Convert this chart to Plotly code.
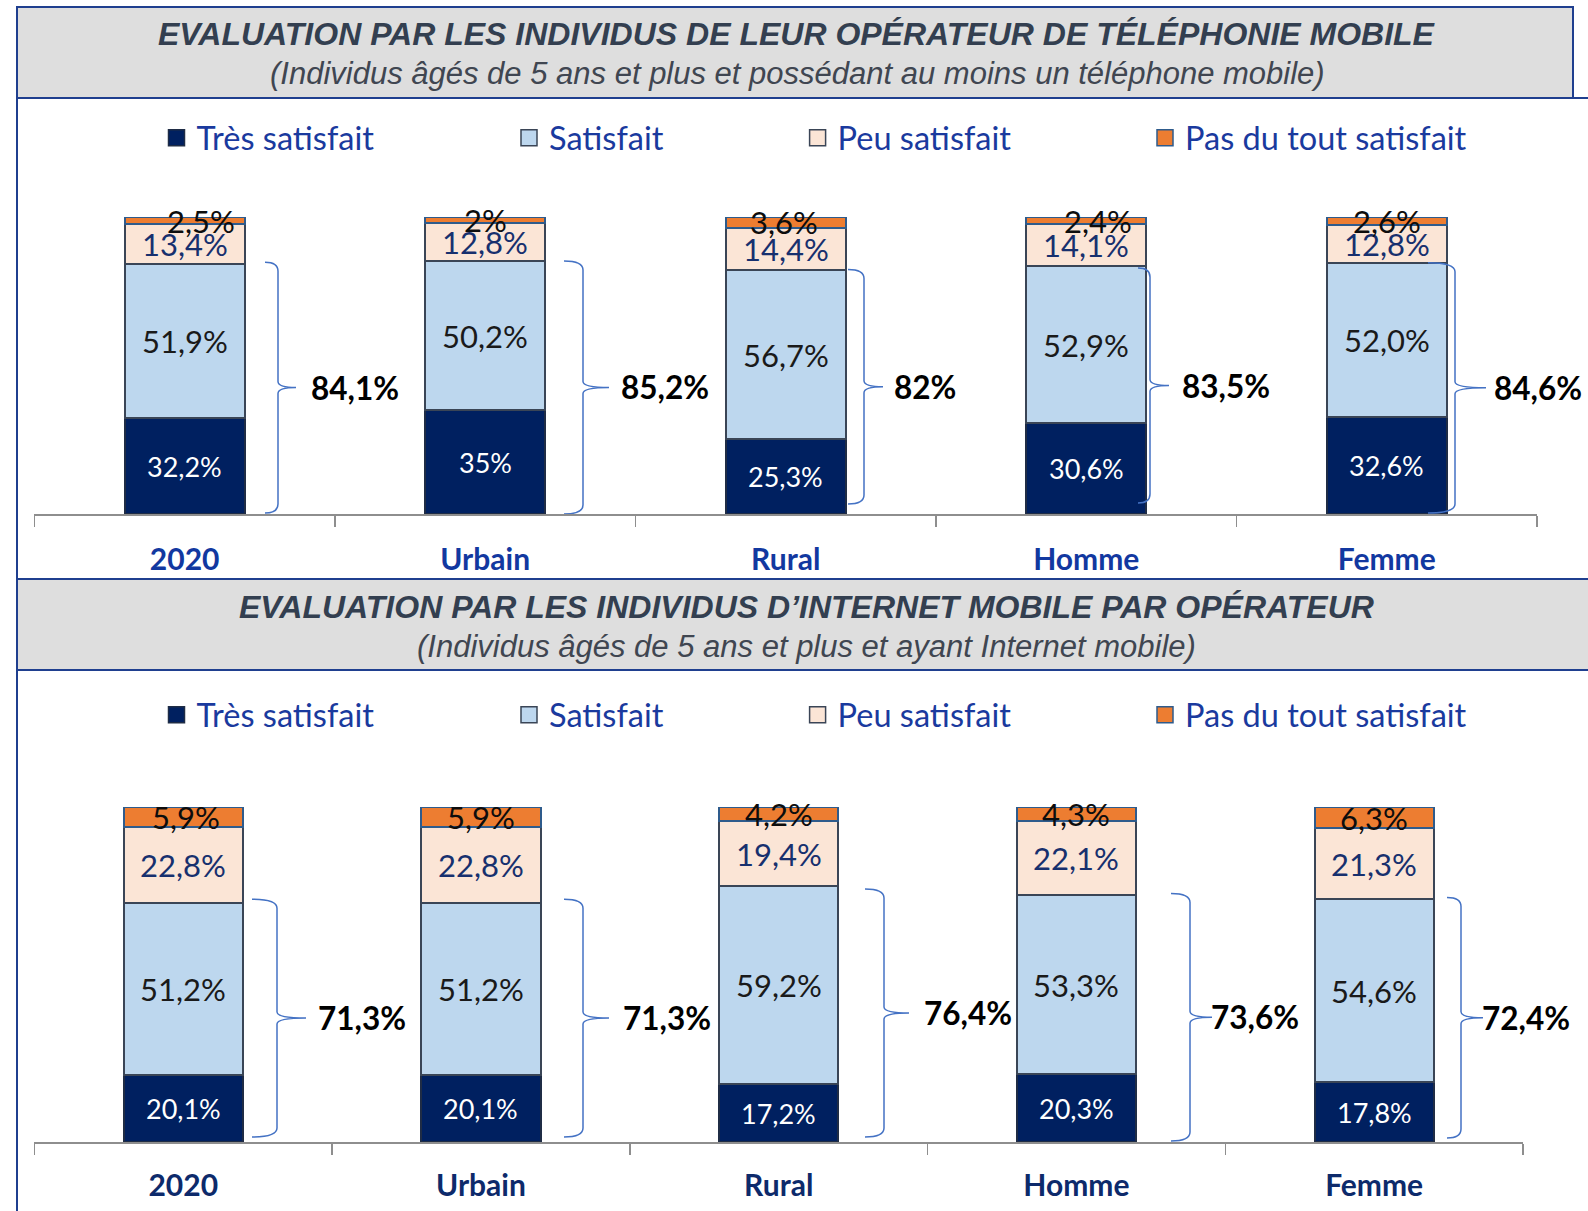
import plotly.graph_objects as go

# ---------------- DATA ----------------
categories = ["2020", "Urbain", "Rural", "Homme", "Femme"]
series_names = ["Très satisfait", "Satisfait", "Peu satisfait", "Pas du tout satisfait"]

# Panel 1 : opérateur de téléphonie mobile
tel_tres = [32.2, 35.0, 25.3, 30.6, 32.6]
tel_sat = [51.9, 50.2, 56.7, 52.9, 52.0]
tel_peu = [13.4, 12.8, 14.4, 14.1, 12.8]
tel_pas = [2.5, 2.0, 3.6, 2.4, 2.6]
tel_tres_lbl = ["32,2%", "35%", "25,3%", "30,6%", "32,6%"]
tel_sat_lbl = ["51,9%", "50,2%", "56,7%", "52,9%", "52,0%"]
tel_peu_lbl = ["13,4%", "12,8%", "14,4%", "14,1%", "12,8%"]
tel_pas_lbl = ["2,5%", "2%", "3,6%", "2,4%", "2,6%"]

# Panel 2 : internet mobile
int_tres = [20.1, 20.1, 17.2, 20.3, 17.8]
int_sat = [51.2, 51.2, 59.2, 53.3, 54.6]
int_peu = [22.8, 22.8, 19.4, 22.1, 21.3]
int_pas = [5.9, 5.9, 4.2, 4.3, 6.3]
int_tres_lbl = ["20,1%", "20,1%", "17,2%", "20,3%", "17,8%"]
int_sat_lbl = ["51,2%", "51,2%", "59,2%", "53,3%", "54,6%"]
int_peu_lbl = ["22,8%", "22,8%", "19,4%", "22,1%", "21,3%"]
int_pas_lbl = ["5,9%", "5,9%", "4,2%", "4,3%", "6,3%"]

title1 = "EVALUATION PAR LES INDIVIDUS DE LEUR OPÉRATEUR DE TÉLÉPHONIE MOBILE"
subtitle1 = "(Individus âgés de 5 ans et plus et possédant au moins un téléphone mobile)"
title2 = "EVALUATION PAR LES INDIVIDUS D’INTERNET MOBILE PAR OPÉRATEUR"
subtitle2 = "(Individus âgés de 5 ans et plus et ayant Internet mobile)"

# ---------------- STYLE / LAYOUT ----------------
W, H = 1588, 1211
FONT = "Lato, 'Noto Sans', sans-serif"
TITLE_FONT = "'Liberation Sans', Arial, sans-serif"
fill_colors = ["#002060", "#bdd7ee", "#fbe5d6", "#ed7d31"]
line_colors = ["#1f2c45", "#3a4556", "#3a4556", "#2e5b8c"]
label_colors = ["#ffffff", "#1a1a1a", "#17306e", "#0d0d0d"]
label_sizes = [27, 31, 31, 31]
BORDER = "#1f3f8f"
BRACE = "#4472c4"


def px(x):
    return x / W


def py(y):
    return 1 - y / H


def fmt_total(v):
    s = f"{v:.1f}"
    if s.endswith(".0"):
        s = s[:-2]
    return s.replace(".", ",") + "%"


panels = [
    dict(vals=[tel_tres, tel_sat, tel_peu, tel_pas],
         lbls=[tel_tres_lbl, tel_sat_lbl, tel_peu_lbl, tel_pas_lbl],
         x0=34.4, x1=1537, ybase=514, ytop=217, cat_color="#1238a0",
         legend_y=138, standoff=18,
         # brace geometry in pixels: hook start, vertical, tip, label centre
         brace=[(265, 278, 296, 355), (564, 583, 609, 665), (848, 864, 883, 925),
                (1138, 1150, 1169, 1226), (1428, 1455, 1486, 1538)],
         brace_top_off=[-2, 0, -1, 2, 0], brace_bot_off=[1, 0, 10, 11, 1],
         pas_dx=[16, 0, -2, 12, 0]),
    dict(vals=[int_tres, int_sat, int_peu, int_pas],
         lbls=[int_tres_lbl, int_sat_lbl, int_peu_lbl, int_pas_lbl],
         x0=34.4, x1=1523, ybase=1142, ytop=807, cat_color="#0d2a6b",
         legend_y=715, standoff=16,
         brace=[(252, 277, 306, 362), (564, 583, 609, 667), (865, 884, 909, 968),
                (1171, 1190, 1212, 1255), (1447, 1461, 1483, 1526)],
         brace_top_off=[-4, -4, 3, -2, -2], brace_bot_off=[5, 5, 5, 1, 4],
         pas_dx=[3, 0, 0, 0, 0]),
]

legend_text_x = [196.5, 549, 837.6, 1185]

fig = go.Figure()
annotations = []
shapes = []
layout_extra = {}
leg_n = 0

for p_i, P in enumerate(panels):
    xa = "x" if p_i == 0 else "x2"
    ya = "y" if p_i == 0 else "y2"
    band = (P["x1"] - P["x0"]) / 5.0
    ppu = (P["ybase"] - P["ytop"]) / 100.0

    def xu(pxv, P=P, band=band):
        return (pxv - P["x0"]) / band - 0.5

    # stacked bars
    for s_i in range(4):
        fig.add_trace(go.Bar(
            x=categories, y=P["vals"][s_i], name=series_names[s_i],
            marker=dict(color=fill_colors[s_i], line=dict(color=line_colors[s_i], width=2)),
            xaxis=xa, yaxis=ya, showlegend=False, hoverinfo="skip"))

    # legend entries (one legend per item, to reproduce the spacing)
    for s_i in range(4):
        leg_n += 1
        lname = "legend" if leg_n == 1 else f"legend{leg_n}"
        fig.add_trace(go.Scatter(
            x=[None], y=[None], mode="markers", name=series_names[s_i],
            marker=dict(symbol="square", size=18, color=fill_colors[s_i],
                        line=dict(color=line_colors[s_i], width=1.5)),
            xaxis=xa, yaxis=ya, legend=lname, showlegend=True, hoverinfo="skip"))
        layout_extra[lname] = dict(
            x=px(legend_text_x[s_i] - 40), xanchor="left",
            y=py(P["legend_y"]), yanchor="middle",
            orientation="h", bgcolor="rgba(0,0,0,0)", borderwidth=0,
            itemwidth=30, itemsizing="trace", itemclick=False, itemdoubleclick=False,
            font=dict(family=FONT, size=32.5, color="#1a3a9e"))

    # segment labels
    for c_i in range(5):
        cum = 0.0
        for s_i in range(4):
            v = P["vals"][s_i][c_i]
            mid = cum + v / 2.0
            cum += v
            annotations.append(dict(
                x=c_i, y=mid, xref=xa, yref=ya, text=P["lbls"][s_i][c_i],
                showarrow=False, xanchor="center", yanchor="middle",
                xshift=P["pas_dx"][c_i] if s_i == 3 else 0,
                font=dict(family=FONT, size=label_sizes[s_i], color=label_colors[s_i])))

    # braces + totals (Très satisfait + Satisfait)
    for c_i in range(5):
        total = P["vals"][0][c_i] + P["vals"][1][c_i]
        hx, vx, tx, lx = P["brace"][c_i]
        yt = total - P["brace_top_off"][c_i] / ppu
        yb = P["brace_bot_off"][c_i] / ppu
        ym = (yt + yb) / 2.0
        r = 9 / ppu
        rt = 6 / ppu
        Hx, Vx, Tx = xu(hx), xu(vx), xu(tx)
        path = (f"M {Hx},{yt} Q {Vx},{yt} {Vx},{yt - r} L {Vx},{ym + rt} "
                f"Q {Vx},{ym} {Tx},{ym} Q {Vx},{ym} {Vx},{ym - rt} "
                f"L {Vx},{yb + r} Q {Vx},{yb} {Hx},{yb}")
        shapes.append(dict(type="path", path=path, xref=xa, yref=ya,
                           line=dict(color=BRACE, width=1.5)))
        annotations.append(dict(
            x=px(lx), y=ym, xref="paper", yref=ya, text=fmt_total(total),
            showarrow=False, xanchor="center", yanchor="middle",
            font=dict(family=FONT, size=31.5, color="#000000", weight="bold")))

    layout_extra["xaxis" if p_i == 0 else "xaxis2"] = dict(
        domain=[px(P["x0"]), px(P["x1"])], anchor=ya, type="category",
        categoryorder="array", categoryarray=categories, range=[-0.5, 4.5],
        showline=True, linecolor="#8e8e8e", linewidth=2,
        ticks="outside", tickson="boundaries", ticklen=11, tickwidth=1.5,
        tickcolor="#8e8e8e", ticklabelstandoff=P["standoff"],
        tickfont=dict(family=FONT, size=30, color=P["cat_color"], weight="bold"),
        showgrid=False, zeroline=False, fixedrange=True)
    layout_extra["yaxis" if p_i == 0 else "yaxis2"] = dict(
        domain=[py(P["ybase"]), py(P["ytop"])], anchor=xa, range=[0, 100],
        visible=False, showgrid=False, zeroline=False, fixedrange=True)

# banners and frame lines
shapes = [
    dict(type="rect", xref="paper", yref="paper", x0=px(17), x1=px(1573), y0=py(98), y1=py(7),
         fillcolor="#dedede", line=dict(color=BORDER, width=2), layer="below"),
    dict(type="line", xref="paper", yref="paper", x0=px(1573), x1=1.0, y0=py(98), y1=py(98),
         line=dict(color=BORDER, width=2)),
    dict(type="rect", xref="paper", yref="paper", x0=px(17), x1=px(1600), y0=py(670), y1=py(579),
         fillcolor="#dedede", line=dict(color=BORDER, width=2), layer="below"),
    dict(type="line", xref="paper", yref="paper", x0=px(17), x1=px(17), y0=0, y1=py(98),
         line=dict(color=BORDER, width=2)),
] + shapes

for t, s, cx, ty, sy in [(title1, subtitle1, 797, 34, 74), (title2, subtitle2, 806, 607, 646)]:
    annotations.append(dict(x=px(cx), y=py(ty), xref="paper", yref="paper", text=f"<b><i>{t}</i></b>",
                            showarrow=False, xanchor="center", yanchor="middle",
                            font=dict(family=TITLE_FONT, size=32, color="#333f50")))
    annotations.append(dict(x=px(cx), y=py(sy), xref="paper", yref="paper", text=f"<i>{s}</i>",
                            showarrow=False, xanchor="center", yanchor="middle",
                            font=dict(family=TITLE_FONT, size=31, color="#404651")))

fig.update_layout(
    width=W, height=H, margin=dict(l=0, r=0, t=0, b=0, pad=0),
    paper_bgcolor="white", plot_bgcolor="rgba(0,0,0,0)",
    barmode="stack", bargap=0.6,
    shapes=shapes, annotations=annotations,
    hovermode=False,
    **layout_extra)

fig.write_html("out.html", post_script="document.body.style.margin='0';",
               config={"displayModeBar": False, "staticPlot": True})
